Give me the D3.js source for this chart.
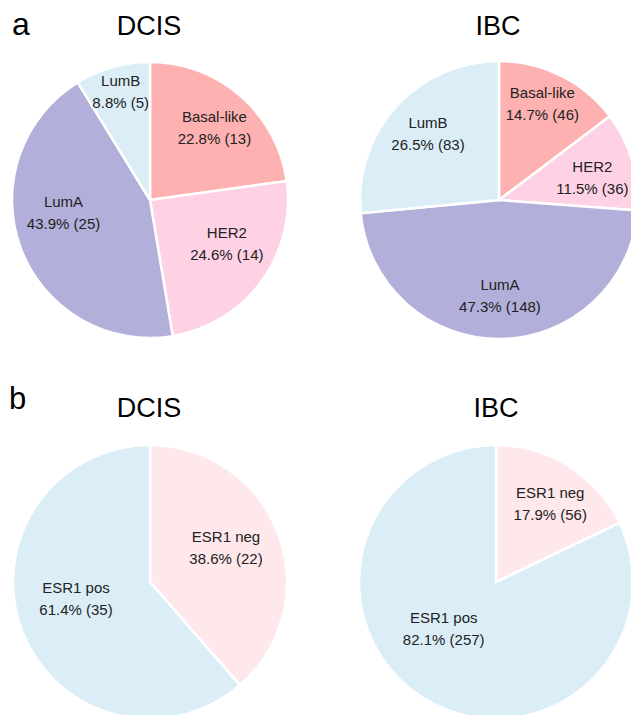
<!DOCTYPE html>
<html>
<head>
<meta charset="utf-8">
<script src="https://cdn.jsdelivr.net/npm/d3@7"></script>
<style>
body{margin:0;background:#fff;}
svg{display:block;font-family:"Liberation Sans",Arial,sans-serif;}
</style>
</head>
<body>
<svg id="chart"></svg>
<script>
// data
var subtypes=["Basal-like","HER2","LumA","LumB"]
var subtypeColors=["#fdb1b1","#fed1e5","#b2b0da","#dbeef8"]
var dcisSubtype=[13,14,25,5]
var ibcSubtype=[46,36,148,83]

var esrGroups=["ESR1 neg","ESR1 pos"]
var esrColors=["#fee8ec","#dbeef8"]
var dcisEsr=[22,35]
var ibcEsr=[56,257]

var screen={width:631,height:715}
var svg=d3.select("#chart")
  .attr("width",screen.width)
  .attr("height",screen.height)

var makeTranslateString=function(x,y)
{
  return "translate("+x+","+y+")";
}

// labelPos = radius ratio for labels, nudge = small per label shifts (px)
var drawPie=function(target,cx,cy,r,names,counts,colors,labelPos,nudge)
{
  var total=d3.sum(counts)
  var rows=names.map(function(n,i){return {name:n,count:counts[i],color:colors[i],i:i}})
  var pie=d3.pie().sort(null).value(function(d){return d.count})
  var arc=d3.arc().innerRadius(0).outerRadius(r)
  var labelArc=d3.arc().innerRadius(r*labelPos).outerRadius(r*labelPos)

  var g=target.append("g").attr("transform",makeTranslateString(cx,cy))

  g.selectAll("path")
   .data(pie(rows))
   .enter()
   .append("path")
   .attr("d",arc)
   .attr("fill",function(d){return d.data.color})
   .attr("stroke","#fff")
   .attr("stroke-width",2.5)

  var labels=g.selectAll("text")
   .data(pie(rows))
   .enter()
   .append("text")
   .attr("text-anchor","middle")
   .attr("font-size","15px")
   .attr("fill","#222")
   .attr("transform",function(d){
      var c=labelArc.centroid(d)
      var n=nudge[d.data.i]
      return makeTranslateString(c[0]+n[0],c[1]+n[1])})

  labels.append("tspan")
   .attr("x",0)
   .attr("y",-5)
   .text(function(d){return d.data.name})
  labels.append("tspan")
   .attr("x",0)
   .attr("y",17)
   .text(function(d){return (d.data.count/total*100).toFixed(1)+"% ("+d.data.count+")"})
}

var drawTitle=function(x,y,txt,size)
{
  svg.append("text")
   .attr("x",x)
   .attr("y",y)
   .attr("text-anchor","middle")
   .attr("font-size",size)
   .attr("fill","#000")
   .text(txt)
}

// panel letters
svg.append("text").attr("x",12).attr("y",35).attr("font-size","32px").text("a")
svg.append("text").attr("x",9).attr("y",409).attr("font-size","31px").text("b")

drawTitle(149,35,"DCIS","27px")
drawTitle(498,35,"IBC","27px")
drawTitle(149,417,"DCIS","27px")
drawTitle(496,417,"IBC","27px")

drawPie(svg,150,200,138,subtypes,dcisSubtype,subtypeColors,0.7,
        [[1,0],[-1,-14],[4,-22],[-3,-16]])
drawPie(svg,499,200,139,subtypes,ibcSubtype,subtypeColors,0.7,
        [[0,-10],[0,4],[0,-2],[1,-2]])
drawPie(svg,150,582,137,esrGroups,dcisEsr,esrColors,0.6,
        [[-1,-6],[3,-13]])
drawPie(svg,496,582,137,esrGroups,ibcEsr,esrColors,0.62,
        [[9,-7],[-7,-26]])
</script>
</body>
</html>
